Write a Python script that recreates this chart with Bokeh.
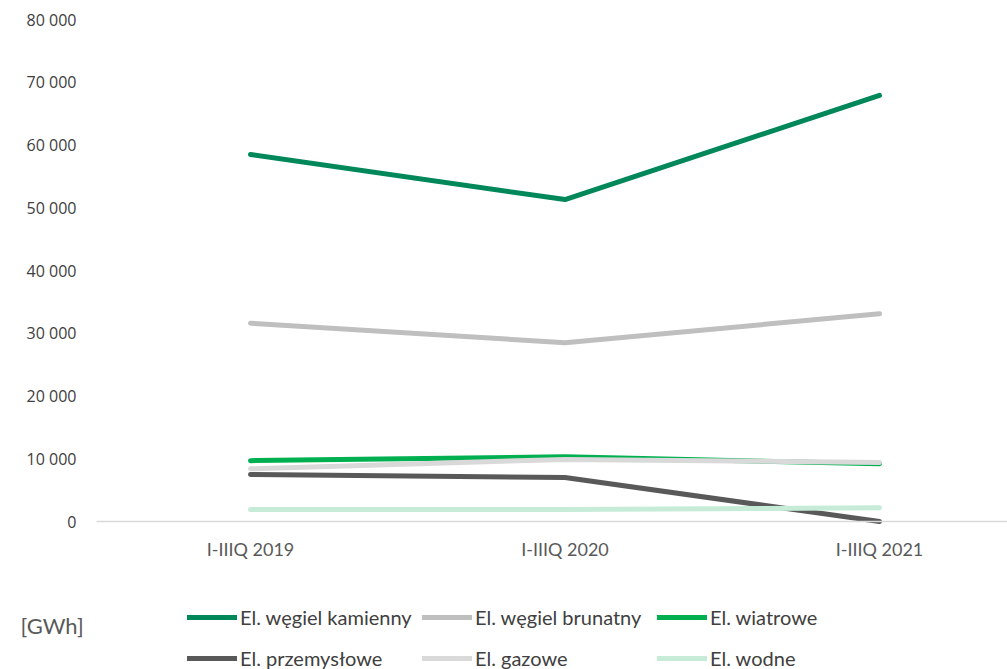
from bokeh.plotting import figure
from bokeh.models import (Range1d, FixedTicker, CustomJSTickFormatter, Legend,
                          LegendItem, Label)
from bokeh.embed import file_html
from bokeh.resources import INLINE

categories = ["I-IIIQ 2019", "I-IIIQ 2020", "I-IIIQ 2021"]
wegiel_kamienny = [58500, 51300, 67900]
wegiel_brunatny = [31600, 28500, 33100]
wiatrowe = [9700, 10300, 9200]
przemyslowe = [7500, 7000, 0]
gazowe = [8400, 9900, 9400]
wodne = [1900, 1900, 2200]
y_ticks = [0, 10000, 20000, 30000, 40000, 50000, 60000, 70000, 80000]
unit_label = "[GWh]"

series = [
    ("El. węgiel kamienny", wegiel_kamienny, "#00875a"),
    ("El. węgiel brunatny", wegiel_brunatny, "#bfbfbf"),
    ("El. wiatrowe", wiatrowe, "#00b050"),
    ("El. przemysłowe", przemyslowe, "#595959"),
    ("El. gazowe", gazowe, "#d9d9d9"),
    ("El. wodne", wodne, "#c6ecd8"),
]

xs = list(range(len(categories)))

# frame covers the whole canvas; axes are pinned inside it
W, H = 1007, 669
x0_px, dx_px = 250.0, 314.5          # screen x of first category, step
y0_px, ytop_px = 521.0, 19.0         # screen y of 0 and of 80000
ppu = (y0_px - ytop_px) / 80000.0
x_start = -x0_px / dx_px
x_end = (W - x0_px) / dx_px
y_end = 80000 + ytop_px / ppu
y_start = -(H - y0_px) / ppu
axis_left = (96 - x0_px) / dx_px

p = figure(width=W, height=H, output_backend="svg", toolbar_location=None,
           x_range=Range1d(x_start, x_end), y_range=Range1d(y_start, y_end),
           min_border=0, min_border_left=0, min_border_right=0,
           min_border_top=0, min_border_bottom=0)
p.outline_line_color = None
p.xgrid.visible = False
p.ygrid.visible = False

items = []
for name, vals, col in series:
    r = p.line(xs, vals, line_color=col, line_width=5, line_cap="round",
               line_join="round")
    items.append(LegendItem(label=name, renderers=[r]))

p.yaxis.fixed_location = axis_left
p.yaxis.ticker = FixedTicker(ticks=y_ticks)
p.yaxis.formatter = CustomJSTickFormatter(
    code="return tick.toFixed(0).replace(/\\B(?=(\\d{3})+(?!\\d))/g, ' ');")
p.yaxis.axis_line_color = None
p.yaxis.major_tick_line_color = None
p.yaxis.minor_tick_line_color = None
p.yaxis.major_tick_out = 0
p.yaxis.major_tick_in = 0
p.yaxis.major_label_standoff = 20
p.yaxis.major_label_text_font = "Open Sans"
p.yaxis.major_label_text_font_size = "16px"
p.yaxis.major_label_text_color = "#404040"

p.xaxis.fixed_location = 0
p.xaxis.bounds = (axis_left, x_end)
p.xaxis.ticker = FixedTicker(ticks=xs)
p.xaxis.major_label_overrides = {i: c for i, c in enumerate(categories)}
p.xaxis.axis_line_color = "#d9d9d9"
p.xaxis.axis_line_width = 1.5
p.xaxis.major_tick_line_color = None
p.xaxis.minor_tick_line_color = None
p.xaxis.major_tick_out = 0
p.xaxis.major_tick_in = 0
p.xaxis.major_label_standoff = 16
p.xaxis.major_label_text_font = "Lato"
p.xaxis.major_label_text_font_size = "18px"
p.xaxis.major_label_text_color = "#595959"

legend = Legend(items=items, ncols=3, orientation="horizontal",
                location=(187, -6), glyph_width=50, glyph_height=34,
                label_width=175, label_standoff=3, spacing=7,
                label_text_font="Lato", label_text_font_size="20px",
                label_text_color="#404040", border_line_color=None,
                background_fill_alpha=0, padding=0, margin=0,
                label_height=34)
p.add_layout(legend, "center")

lbl = Label(x=20, y=44, x_units="screen", y_units="screen", text=unit_label,
            text_font="Lato", text_font_size="22px", text_color="#595959",
            text_baseline="middle")
p.add_layout(lbl)

open("out.html", "w").write(file_html(p, INLINE))
